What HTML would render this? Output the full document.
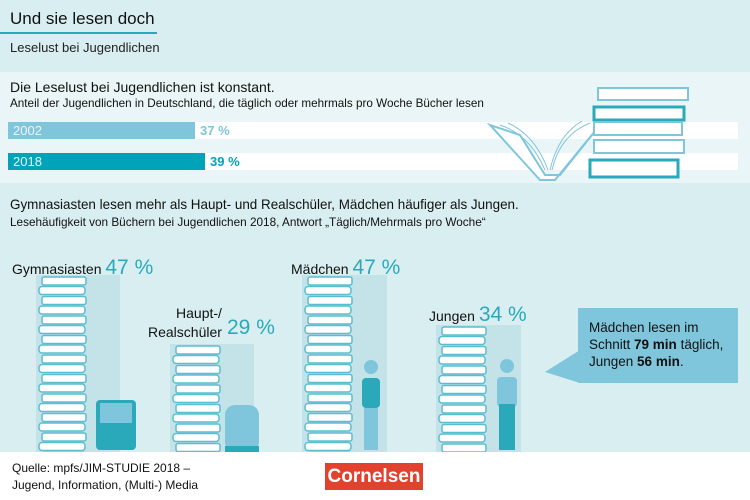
<!DOCTYPE html>
<html><head><meta charset="utf-8"><style>
body{margin:0;width:750px;height:500px;overflow:hidden;font-family:"Liberation Sans",sans-serif;background:#fff;position:relative}
.a{position:absolute;white-space:nowrap;transform-origin:0 0}
</style></head><body>
<div class="a" style="left:0;top:0;width:750px;height:72px;background:#d9eef0"></div>
<div class="a" style="left:0;top:72px;width:750px;height:111px;background:#eaf5f7"></div>
<div class="a" style="left:0;top:183px;width:750px;height:269px;background:#d9eef0"></div>
<div class="a" style="left:10px;top:9px;font-size:17px;color:#111">Und sie lesen doch</div>
<div class="a" style="left:0;top:32px;width:157px;height:2px;background:#2aa9bb"></div>
<div class="a" style="left:10px;top:40px;font-size:13px;color:#222">Leselust bei Jugendlichen</div>
<div class="a" style="left:10px;top:79px;font-size:14px;color:#111">Die Leselust bei Jugendlichen ist konstant.</div>
<div class="a" style="left:10px;top:96px;font-size:12px;color:#111;transform:scaleX(0.975)">Anteil der Jugendlichen in Deutschland, die täglich oder mehrmals pro Woche Bücher lesen</div>
<div class="a" style="left:8px;top:122px;width:730px;height:17px;background:#fff"></div>
<div class="a" style="left:8px;top:153px;width:730px;height:17px;background:#fff"></div>
<div class="a" style="left:8px;top:122px;width:187px;height:17px;background:#7fc6dc;color:#e8f6fa;font-size:13px;line-height:17px;text-indent:5px">2002</div>
<div class="a" style="left:200px;top:122px;font-size:13px;line-height:17px;color:#7fc6dc;font-weight:bold">37 %</div>
<div class="a" style="left:8px;top:153px;width:197px;height:17px;background:#00a3b7;color:#e8f6fa;font-size:13px;line-height:17px;text-indent:5px">2018</div>
<div class="a" style="left:210px;top:153px;font-size:13px;line-height:17px;color:#00a3b7;font-weight:bold">39 %</div>
<svg class="a" style="left:480px;top:85px" width="220" height="100">
<g fill="#fff" stroke="#7fc6dc" stroke-width="2">
<path d="M10 40 L60 95 L75 95 L120 40 L80 90 L65 90 L40 50 Z"/>
<rect x="118" y="3" width="90" height="12"/><rect x="114" y="22" width="90" height="13" stroke="#2aa9bb" stroke-width="3"/>
<rect x="114" y="37" width="88" height="13"/><rect x="114" y="55" width="90" height="13"/>
<rect x="110" y="75" width="88" height="17" stroke="#2aa9bb" stroke-width="3"/></g>
<g stroke="#7fc6dc" fill="none"><path d="M20 40 Q50 50 65 85"/><path d="M28 38 Q55 50 68 85"/><path d="M110 38 Q80 50 72 85"/><path d="M102 36 Q78 50 70 85"/></g>
</svg>
<div class="a" style="left:10px;top:196px;font-size:14px;color:#111;transform:scaleX(0.96)">Gymnasiasten lesen mehr als Haupt- und Realschüler, Mädchen häufiger als Jungen.</div>
<div class="a" style="left:10px;top:215px;font-size:12px;color:#111;transform:scaleX(0.98)">Lesehäufigkeit von Büchern bei Jugendlichen 2018, Antwort „Täglich/Mehrmals pro Woche“</div>
<svg class="a" style="left:0;top:0" width="750" height="452">
<defs>
<g id="pb"><rect x="4" y="1" width="44" height="8" rx="2" fill="#fff" stroke="#5bbdd0" stroke-width="1.5"/>
<rect x="1" y="10.5" width="46" height="8" rx="3" fill="#fff" stroke="#5bbdd0" stroke-width="1.5"/></g>
<pattern id="b1" x="38" y="276" width="60" height="19.5" patternUnits="userSpaceOnUse"><use href="#pb"/></pattern>
<pattern id="b2" x="172" y="345" width="60" height="19.5" patternUnits="userSpaceOnUse"><use href="#pb"/></pattern>
<pattern id="b3" x="304" y="276" width="60" height="19.5" patternUnits="userSpaceOnUse"><use href="#pb"/></pattern>
<pattern id="b4" x="438" y="326" width="60" height="19.5" patternUnits="userSpaceOnUse"><use href="#pb"/></pattern>
</defs>
<rect x="36" y="275" width="84" height="177" fill="#c3e3e8"/>
<rect x="170" y="344" width="84" height="108" fill="#c3e3e8"/>
<rect x="302" y="275" width="85" height="177" fill="#c3e3e8"/>
<rect x="436" y="325" width="85" height="127" fill="#c3e3e8"/>
<rect x="38" y="276" width="52" height="176" fill="url(#b1)"/>
<rect x="172" y="345" width="52" height="107" fill="url(#b2)"/>
<rect x="304" y="276" width="52" height="176" fill="url(#b3)"/>
<rect x="438" y="326" width="52" height="126" fill="url(#b4)"/>
<rect x="96" y="400" width="40" height="50" rx="4" fill="#2aa9bb"/><rect x="100" y="403" width="32" height="20" fill="#7fc6dc"/>
<rect x="225" y="405" width="34" height="47" rx="10" fill="#7fc6dc"/><rect x="225" y="446" width="34" height="6" fill="#2aa9bb"/>
<circle cx="371" cy="367" r="7" fill="#7fc6dc"/><rect x="362" y="378" width="18" height="30" rx="4" fill="#2aa9bb"/><rect x="364" y="408" width="14" height="42" fill="#7fc6dc"/>
<circle cx="507" cy="366" r="7" fill="#7fc6dc"/><rect x="497" y="377" width="20" height="30" rx="4" fill="#7fc6dc"/><rect x="499" y="404" width="16" height="46" fill="#2aa9bb"/>
<polygon points="545,372 580,350 580,383" fill="#7fc6dc"/><rect x="578" y="308" width="160" height="75" fill="#7fc6dc"/>
</svg>
<div class="a" style="left:12px;top:256px;font-size:14px;color:#111">Gymnasiasten <span style="font-size:21px;color:#2aa9bb">47 %</span></div>
<div class="a" style="left:148px;top:304px;font-size:14px;color:#111;line-height:19px;text-align:right">Haupt-/<br>Realschüler</div>
<div class="a" style="left:227px;top:316px;font-size:21px;color:#2aa9bb">29 %</div>
<div class="a" style="left:291px;top:256px;font-size:14px;color:#111">Mädchen <span style="font-size:21px;color:#2aa9bb">47 %</span></div>
<div class="a" style="left:429px;top:303px;font-size:14px;color:#111">Jungen <span style="font-size:21px;color:#2aa9bb">34 %</span></div>
<div class="a" style="left:589px;top:319px;font-size:13.5px;color:#111;line-height:17px">Mädchen lesen im<br>Schnitt <b>79 min</b> täglich,<br>Jungen <b>56 min</b>.</div>
<div class="a" style="left:12px;top:460px;font-size:12px;color:#111;line-height:17px">Quelle: mpfs/JIM-STUDIE 2018 –<br>Jugend, Information, (Multi-) Media</div>
<div class="a" style="left:325px;top:463px;width:98px;height:27px;background:#e2412e;color:#fff;font-weight:bold;font-size:19px;line-height:27px;text-align:center">Cornelsen</div>
</body></html>
